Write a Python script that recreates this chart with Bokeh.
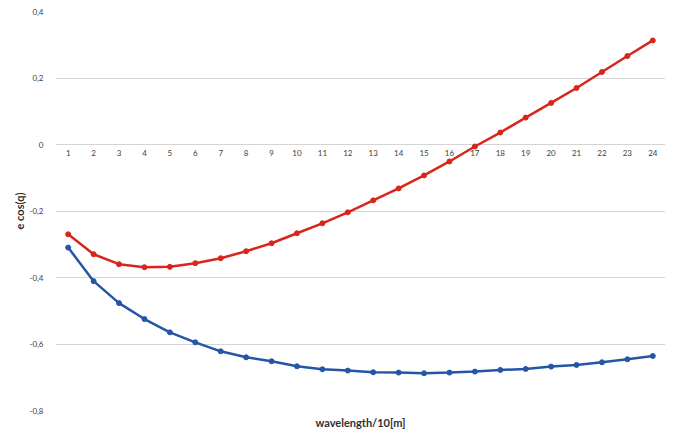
from bokeh.plotting import figure
from bokeh.models import Range1d, FixedTicker, ColumnDataSource
from bokeh.core.properties import value
from bokeh.embed import file_html
from bokeh.resources import INLINE

categories = list(range(1, 25))
category_labels = [str(c) for c in categories]
red_series = [-0.270, -0.330, -0.360, -0.369, -0.368, -0.357, -0.342, -0.321,
              -0.297, -0.267, -0.237, -0.204, -0.168, -0.132, -0.093, -0.051,
              -0.006, 0.036, 0.081, 0.125, 0.170, 0.218, 0.266, 0.313]
blue_series = [-0.310, -0.411, -0.477, -0.525, -0.565, -0.595, -0.622, -0.640,
               -0.652, -0.667, -0.676, -0.680, -0.685, -0.686, -0.688, -0.686,
               -0.683, -0.678, -0.675, -0.668, -0.663, -0.655, -0.646, -0.636]
y_ticks = [-0.8, -0.6, -0.4, -0.2, 0, 0.2, 0.4]
y_tick_labels = ["-0,8", "-0,6", "-0,4", "-0,2", "0", "0,2", "0,4"]

FONT = "Lato"

p = figure(width=665, height=436, output_backend="svg", toolbar_location=None,
           x_range=Range1d(0.5, 24.5), y_range=Range1d(-0.8, 0.4),
           min_border_left=55, min_border_right=0, min_border_top=11,
           min_border_bottom=26)
p.outline_line_color = None
p.background_fill_color = "white"
p.border_fill_color = "white"

# grid
p.xgrid.grid_line_color = None
p.ygrid.ticker = FixedTicker(ticks=y_ticks)
p.ygrid.grid_line_color = "#d4d4d4"
p.ygrid.grid_line_width = 1.2

# y axis
p.yaxis.ticker = FixedTicker(ticks=y_ticks)
p.yaxis.major_label_overrides = {t: l for t, l in zip(y_ticks, y_tick_labels)}
p.yaxis.axis_line_color = None
p.yaxis.major_tick_line_color = None
p.yaxis.minor_tick_line_color = None
p.yaxis.major_label_standoff = 6
p.yaxis.major_label_text_font = FONT
p.yaxis.major_label_text_font_size = "8px"
p.yaxis.major_label_text_color = "#404040"
p.yaxis.axis_label = "e cos(q)"
p.yaxis.axis_label_text_font = FONT
p.yaxis.axis_label_text_font_size = "11px"
p.yaxis.axis_label_text_font_style = "bold"
p.yaxis.axis_label_text_color = "#303030"
p.yaxis.axis_label_standoff = 0

# x axis (label only)
p.xaxis.ticker = FixedTicker(ticks=[])
p.xaxis.axis_line_color = None
p.xaxis.major_tick_line_color = None
p.xaxis.minor_tick_line_color = None
p.xaxis.major_label_standoff = 0
p.xaxis.axis_label = "wavelength/10[m]"
p.xaxis.axis_label_text_font = FONT
p.xaxis.axis_label_text_font_size = "11px"
p.xaxis.axis_label_text_font_style = "bold"
p.xaxis.axis_label_text_color = "#303030"
p.xaxis.axis_label_standoff = 5

# category labels along the zero line
lab_src = ColumnDataSource(dict(x=categories, y=[0] * len(categories), t=category_labels))
p.text(x="x", y="y", text="t", source=lab_src, y_offset=5,
       text_align="center", text_baseline="top",
       text_font=value(FONT), text_font_size="8px", text_color="#404040")

src = ColumnDataSource(dict(x=categories, red=red_series, blue=blue_series))
red = "#d8261a"
blue = "#2556a6"
p.line("x", "red", source=src, line_color=red, line_width=2.5)
p.scatter("x", "red", source=src, size=5, fill_color=red, line_color=red)
p.line("x", "blue", source=src, line_color=blue, line_width=2.5)
p.scatter("x", "blue", source=src, size=5, fill_color=blue, line_color=blue)

open("out.html", "w").write(file_html(p, INLINE))
